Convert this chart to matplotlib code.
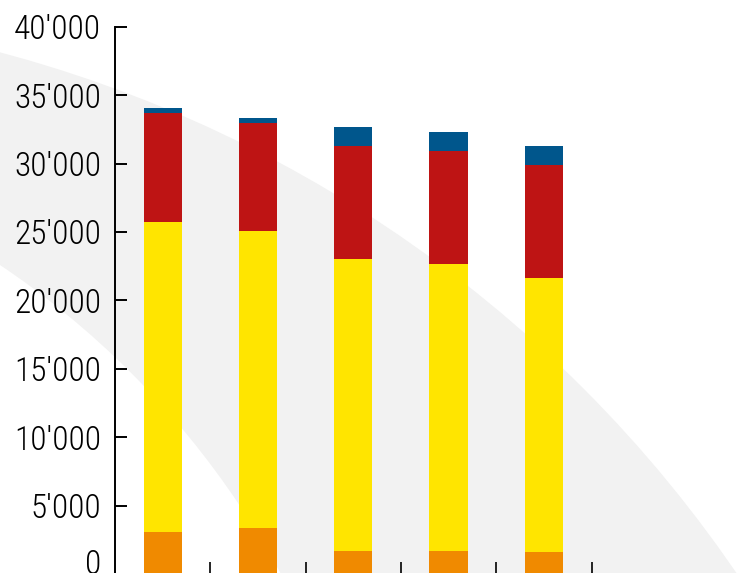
import numpy as np
import matplotlib.pyplot as plt
from matplotlib.patches import Circle
from matplotlib.ticker import FuncFormatter

plt.rcParams['font.family'] = ['Roboto Condensed', 'Archivo Narrow', 'Barlow Condensed', 'DejaVu Sans']

# stacked values per bar (bottom -> top)
orange = [3080, 3390, 1690, 1690, 1620]
yellow = [22650, 21700, 21330, 20970, 20020]
red = [7940, 7870, 8260, 8240, 8240]
blue = [390, 365, 1390, 1410, 1410]

colors = ['#F08A00', '#FFE500', '#BE1414', '#00568C']

W, H = 747, 573
fig = plt.figure(figsize=(W / 100, H / 100), dpi=100)

# background decoration: grey curved band
bg = fig.add_axes([0, 0, 1, 1], zorder=0)
bg.set_xlim(0, W)
bg.set_ylim(H, 0)
bg.axis('off')
bg.add_patch(Circle((-332, 1303), 1294, color='#F2F2F2', lw=0))
bg.add_patch(Circle((-486, 989), 872, color='white', lw=0))

ax = fig.add_axes([115 / W, -1.1 / H, (W - 115) / W, 547.4 / H], zorder=1)
ax.patch.set_alpha(0)

ind = np.arange(len(orange))
width = 0.4
bottom = np.zeros(len(orange))
for vals, c in zip((orange, yellow, red, blue), colors):
    ax.bar(ind, vals, width, bottom=bottom, color=c, lw=0)
    bottom += np.array(vals)

ax.set_xlim(-0.5, (W - 115) / 95.3 - 0.5)
ax.set_ylim(0, 40000)
ax.set_yticks(np.arange(0, 40001, 5000))
ax.yaxis.set_major_formatter(FuncFormatter(lambda v, p: f'{int(v):,}'.replace(',', "'")))
ax.set_xticks(np.arange(0.5, len(orange), 1.0))
ax.set_xticklabels([])

ax.spines['top'].set_visible(False)
ax.spines['right'].set_visible(False)
for s in ('left', 'bottom'):
    ax.spines[s].set_linewidth(1.4)
ax.tick_params(axis='y', direction='in', length=8.6, width=1.4, pad=10, labelsize=24)
ax.tick_params(axis='x', direction='in', length=9, width=1.2)
for lbl in ax.get_yticklabels():
    lbl.set_fontweight('light')
# the zero label sits a bit higher so it isn't lost at the bottom edge
ax.yaxis.get_major_ticks()[0].label1.set_verticalalignment('baseline')

fig.savefig('out.png', dpi=100)
